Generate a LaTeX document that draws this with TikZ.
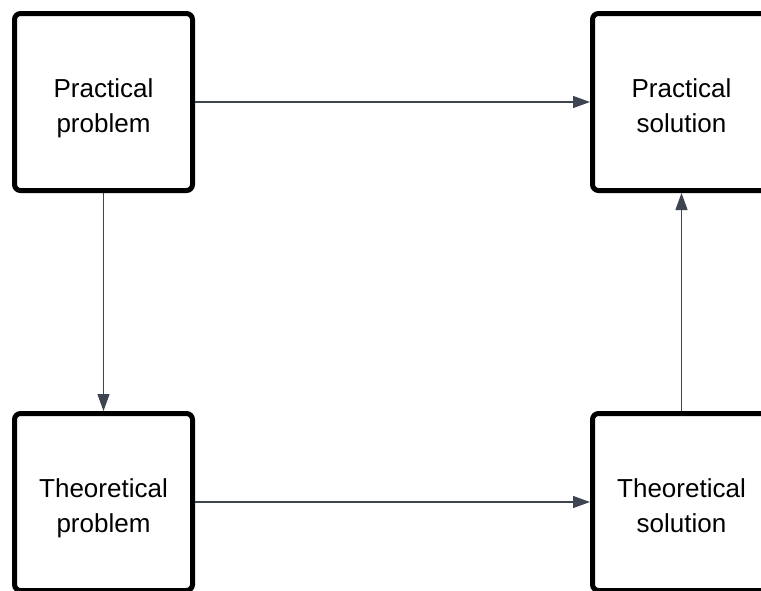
\documentclass[tikz,border=0pt]{standalone}
\usepackage{fontspec}
\setmainfont{Liberation Sans}
\usetikzlibrary{arrows.meta}
\definecolor{linkgray}{HTML}{3F4550}
% two-line label with fixed top height and bottom depth, so every box sets its text alike
\newcommand{\stagetext}[2]{\rule{0pt}{31pt}#1\\#2\rule[-5.5pt]{0pt}{0pt}}
\tikzset{
  stage/.style={draw=black, line width=5pt, rounded corners=6pt, fill=white,
    minimum width=178pt, minimum height=177pt, align=center, inner sep=0pt,
    font=\fontsize{26pt}{35pt}\selectfont},
  link/.style={draw=linkgray, line width=1.2pt,
    -{Triangle[length=17pt, width=12pt]}}
}
\begin{document}
\begin{tikzpicture}[x=1pt, y=-1pt]
  \clip (0,0) rectangle (761,590);
  \fill[white] (0,0) rectangle (761,590);
  \node[stage] (pp) at (103.5,102) {\stagetext{Practical}{problem}};
  \node[stage] (ps) at (681.5,102) {\stagetext{Practical}{solution}};
  \node[stage] (tp) at (103.5,502) {\stagetext{Theoretical}{problem}};
  \node[stage] (ts) at (681.5,502) {\stagetext{Theoretical}{solution}};
  \draw[link] (pp.east) -- (ps.west);
  \draw[link] (pp.south) -- (tp.north);
  \draw[link] (tp.east) -- (ts.west);
  \draw[link] (ts.north) -- (ps.south);
\end{tikzpicture}
\end{document}
